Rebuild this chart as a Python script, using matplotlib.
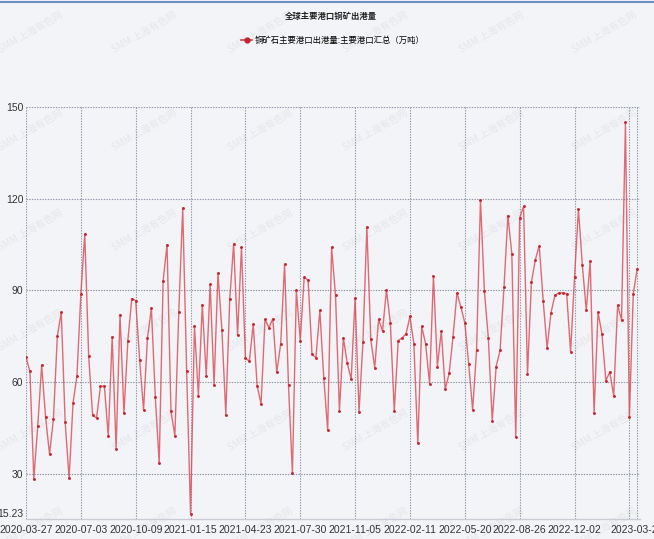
import numpy as np
import pandas as pd
import matplotlib
matplotlib.use('Agg')
import matplotlib.pyplot as plt
from matplotlib.lines import Line2D

# weekly series, 2020-03-27 .. 2023-03-24
start_date = '2020-03-27'
values = [68.2, 63.5, 28.4, 45.6, 65.6, 48.6, 36.4, 47.9, 75.1, 82.8,
          46.9, 28.5, 53.1, 62.0, 88.7, 108.5, 68.4, 49.3, 48.2, 58.6,
          58.7, 42.3, 74.8, 38.1, 82.1, 49.8, 73.6, 87.3, 86.7, 67.3,
          50.9, 74.4, 84.2, 55.3, 33.4, 93.2, 105.0, 50.4, 42.5, 83.1,
          117.0, 63.8, 16.9, 78.5, 55.5, 85.3, 62.0, 92.0, 59.1, 95.6,
          77.1, 49.4, 87.1, 105.2, 75.3, 104.1, 68.0, 66.8, 78.9, 58.8,
          52.9, 80.5, 77.8, 80.7, 63.2, 72.5, 98.6, 58.9, 30.2, 90.0,
          73.6, 94.3, 93.4, 69.1, 68.0, 83.5, 61.4, 44.2, 104.1, 88.4,
          50.7, 74.5, 66.2, 60.9, 87.6, 50.2, 73.1, 110.7, 74.0, 64.7,
          80.5, 76.7, 90.2, 79.4, 50.5, 73.6, 74.5, 75.8, 81.5, 72.5,
          40.0, 78.2, 72.5, 59.5, 94.8, 65.1, 76.7, 57.6, 62.9, 74.9,
          89.2, 84.5, 79.4, 65.8, 50.9, 70.4, 119.7, 89.8, 74.5, 47.4,
          65.1, 70.4, 91.0, 114.5, 102.0, 42.0, 113.7, 117.5, 62.7, 92.7,
          100.0, 104.6, 86.7, 71.1, 82.7, 88.4, 89.2, 89.2, 88.9, 69.9,
          94.3, 116.6, 98.2, 83.5, 99.5, 49.9, 82.9, 75.8, 60.5, 63.3,
          55.6, 85.1, 80.4, 145.0, 48.5, 88.9, 97.1]
dates = pd.date_range(start_date, periods=len(values), freq='7D')

y_ticks = [15.23, 30, 60, 90, 120, 150]
y_labels = ['15.23', '30', '60', '90', '120', '150']

title = '全球主要港口铜矿出港量'
series_name = '铜矿石主要港口出港量:主要港口汇总（万吨）'

cjk = ['Noto Sans CJK SC', 'DejaVu Sans']
narrow = ['Liberation Sans Narrow', 'Liberation Sans', 'DejaVu Sans']

W, H = 654, 539
bg = '#f3f4f7'
fig = plt.figure(figsize=(W / 100, H / 100), dpi=100, facecolor=bg)
ax = fig.add_axes([26 / W, 1 - 519 / H, (640 - 26) / W, (519 - 107) / H])
ax.set_facecolor(bg)

# faint watermark
for wx in [30, 144, 260, 375, 491, 604]:
    for wy in [32, 130, 230, 330, 430, 528]:
        ax.text(wx / W, 1 - wy / H, 'SMM 上海有色网', transform=fig.transFigure,
                rotation=30, ha='center', va='center', fontsize=7,
                color='#e4e6ea', family=cjk, clip_on=False, zorder=0.5)

ax.plot(dates, values, color='#d94852', lw=1.0, alpha=0.8, zorder=3)
ax.plot(dates, values, 'o', color='#c8262f', ms=1.1, zorder=4)

ax.set_ylim(15.23, 150)
ax.set_xlim(dates[0], dates[-1] + pd.Timedelta(days=5))

tick_idx = list(range(0, len(dates), 14)) + [len(dates) - 1]
ax.set_xticks(dates[tick_idx])
ax.set_xticklabels(['' if i == 154 else dates[i].strftime('%Y-%m-%d') for i in tick_idx],
                   family=narrow, fontsize=7.5, color='#333333')
ax.set_yticks(y_ticks)
ax.set_yticklabels(y_labels, family=narrow, fontsize=7.5, color='#333333')
ax.tick_params(length=0)
ax.tick_params(axis='x', pad=4)
ax.tick_params(axis='y', pad=2)
ax.get_yticklabels()[0].set_verticalalignment('bottom')

grid_style = dict(color='#8f94a8', lw=0.8, ls=(0, (1.2, 1.2)), zorder=1)
for t in [30, 60, 90, 120, 150]:
    ax.axhline(t, **grid_style)
for i in tick_idx:
    ax.axvline(dates[i], **grid_style)
ax.axvline(ax.get_xlim()[1], **grid_style)

for s in ['top', 'right', 'left']:
    ax.spines[s].set_visible(False)
ax.spines['bottom'].set_color('#c9ccd6')
ax.spines['bottom'].set_linewidth(1.0)

fig.text(331 / W, 1 - 17 / H, title, ha='center', va='center',
         fontsize=6, fontweight='bold', family=cjk, color='#222222')

handle = Line2D([], [], color='#d6404a', lw=1.2, marker='o', ms=3.5,
                markerfacecolor='#c4232e', markeredgecolor='#c4232e')
fig.legend([handle], [series_name], loc='center',
           bbox_to_anchor=(333 / W, 1 - 40 / H), frameon=False,
           handlelength=1.3, handletextpad=0.3,
           prop={'family': cjk, 'size': 6})

fig.add_artist(Line2D([0, 1], [1 - 2 / H, 1 - 2 / H], color='#6d8fc4', lw=1.5))

fig.savefig('out.png', dpi=100, facecolor=bg)
